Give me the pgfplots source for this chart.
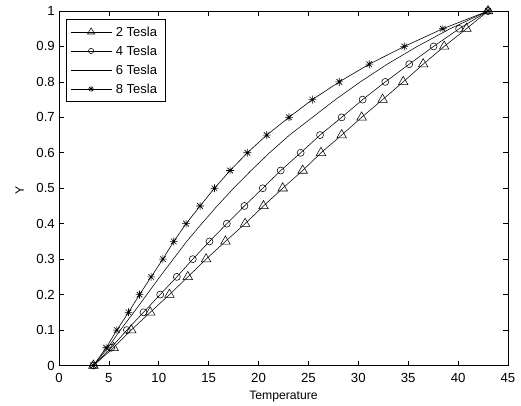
\documentclass[border=0pt]{standalone}
\usepackage{fontspec}
\setmainfont{Liberation Sans}
\usepackage{pgfplots}
\pgfplotsset{compat=1.18}

% eight-armed star marker (plus and cross overlaid)
\pgfdeclareplotmark{matstar}{%
  \pgfpathmoveto{\pgfqpoint{-\pgfplotmarksize}{0pt}}\pgfpathlineto{\pgfqpoint{\pgfplotmarksize}{0pt}}%
  \pgfpathmoveto{\pgfqpoint{0pt}{-\pgfplotmarksize}}\pgfpathlineto{\pgfqpoint{0pt}{\pgfplotmarksize}}%
  \pgfpathmoveto{\pgfqpoint{-0.72\pgfplotmarksize}{-0.72\pgfplotmarksize}}\pgfpathlineto{\pgfqpoint{0.72\pgfplotmarksize}{0.72\pgfplotmarksize}}%
  \pgfpathmoveto{\pgfqpoint{-0.72\pgfplotmarksize}{0.72\pgfplotmarksize}}\pgfpathlineto{\pgfqpoint{0.72\pgfplotmarksize}{-0.72\pgfplotmarksize}}%
  \pgfusepathqstroke}

\newcommand\tickfont{\fontsize{13.2bp}{15bp}\selectfont}
\newcommand\labfont{\fontsize{12.2bp}{14bp}\selectfont}

\begin{document}
\begin{tikzpicture}
\begin{axis}[
  name=ax,
  scale only axis,
  width=449bp, height=354.5bp,
  xmin=0, xmax=45, ymin=0, ymax=1,
  xtick={0,5,...,45},
  ytick={0,0.1,...,1},
  /pgf/number format/assume math mode=true,
  /pgf/number format/fixed,
  yticklabel={\pgfmathprintnumber[fixed,precision=1]{\tick}},
  tick align=inside,
  tick pos=both,
  major tick length=5bp,
  axis line style={line width=0.6bp, black},
  every tick/.style={black, line width=0.6bp},
  xticklabel style={font=\tickfont, anchor=base, yshift=-17bp, inner sep=0pt},
  yticklabel style={font=\tickfont, anchor=east, xshift=-4bp, inner sep=0pt},
  xlabel={Temperature},
  ylabel={Y},
  every axis x label/.style={at={(axis description cs:0.5,-0.0945)}, anchor=base, font=\labfont},
  every axis y label/.style={at={(axis description cs:-0.078,0.495)}, anchor=base, rotate=90, font=\labfont},
  legend cell align=left,
  legend image code/.code={%
    \draw[mark repeat=2,mark phase=2,#1,every mark/.append style={scale=0.75}]
      plot coordinates {(0bp,0bp) (20.5bp,0bp) (41bp,0bp)};},
  legend style={at={(axis description cs:0.0156,0.977)}, anchor=north west,
    draw=black, line width=0.6bp, font=\fontsize{13bp}{15bp}\selectfont,
    inner xsep=4bp, inner ysep=3bp, row sep=0pt,
    nodes={inner xsep=4bp, inner ysep=3bp, text height=11bp, text depth=2bp}},
  every axis plot/.append style={black, line width=0.55bp},
]
% 2 Tesla
\addplot[mark=triangle, mark size=5.5bp] coordinates {
  (3.45,0) (5.47,0.05) (7.24,0.1) (9.14,0.15) (11.07,0.2) (12.91,0.25)
  (14.74,0.3) (16.68,0.35) (18.65,0.4) (20.5,0.45) (22.42,0.5) (24.42,0.55)
  (26.26,0.6) (28.33,0.65) (30.33,0.7) (32.43,0.75) (34.5,0.8) (36.5,0.85)
  (38.6,0.9) (40.84,0.95) (43,1)};
\addlegendentry{2 Tesla}
% 4 Tesla
\addplot[mark=o, mark size=3.5bp] coordinates {
  (3.45,0) (5.23,0.05) (6.8,0.1) (8.47,0.15) (10.14,0.2) (11.81,0.25)
  (13.41,0.3) (15.08,0.35) (16.82,0.4) (18.58,0.45) (20.42,0.5) (22.22,0.55)
  (24.22,0.6) (26.16,0.65) (28.33,0.7) (30.43,0.75) (32.7,0.8) (35.1,0.85)
  (37.54,0.9) (40.1,0.95) (43,1)};
\addlegendentry{4 Tesla}
% 6 Tesla
\addplot[no marks] coordinates {
  (3.45,0) (4.9,0.05) (6.15,0.1) (7.5,0.15) (8.8,0.2) (10.1,0.25)
  (11.45,0.3) (12.8,0.35) (14.3,0.4) (15.85,0.45) (17.5,0.5) (19.25,0.55)
  (21.1,0.6) (23.1,0.65) (25.4,0.7) (27.7,0.75) (30.2,0.8) (32.9,0.85)
  (35.9,0.9) (39.2,0.95) (43,1)};
\addlegendentry{6 Tesla}
% 8 Tesla
\addplot[mark=matstar, mark size=3.9bp, line width=0.6bp] coordinates {
  (3.45,0) (4.73,0.05) (5.8,0.1) (6.97,0.15) (8.07,0.2) (9.24,0.25)
  (10.41,0.3) (11.5,0.35) (12.74,0.4) (14.14,0.45) (15.58,0.5) (17.15,0.55)
  (18.88,0.6) (20.82,0.65) (23.05,0.7) (25.39,0.75) (28.09,0.8) (31.09,0.85)
  (34.6,0.9) (38.47,0.95) (43,1)};
\addlegendentry{8 Tesla}
\end{axis}
\pgfresetboundingbox
\path[use as bounding box] ([xshift=-59bp,yshift=-40.5bp]ax.south west) rectangle ([xshift=13bp,yshift=11bp]ax.north east);
\end{tikzpicture}
\end{document}
